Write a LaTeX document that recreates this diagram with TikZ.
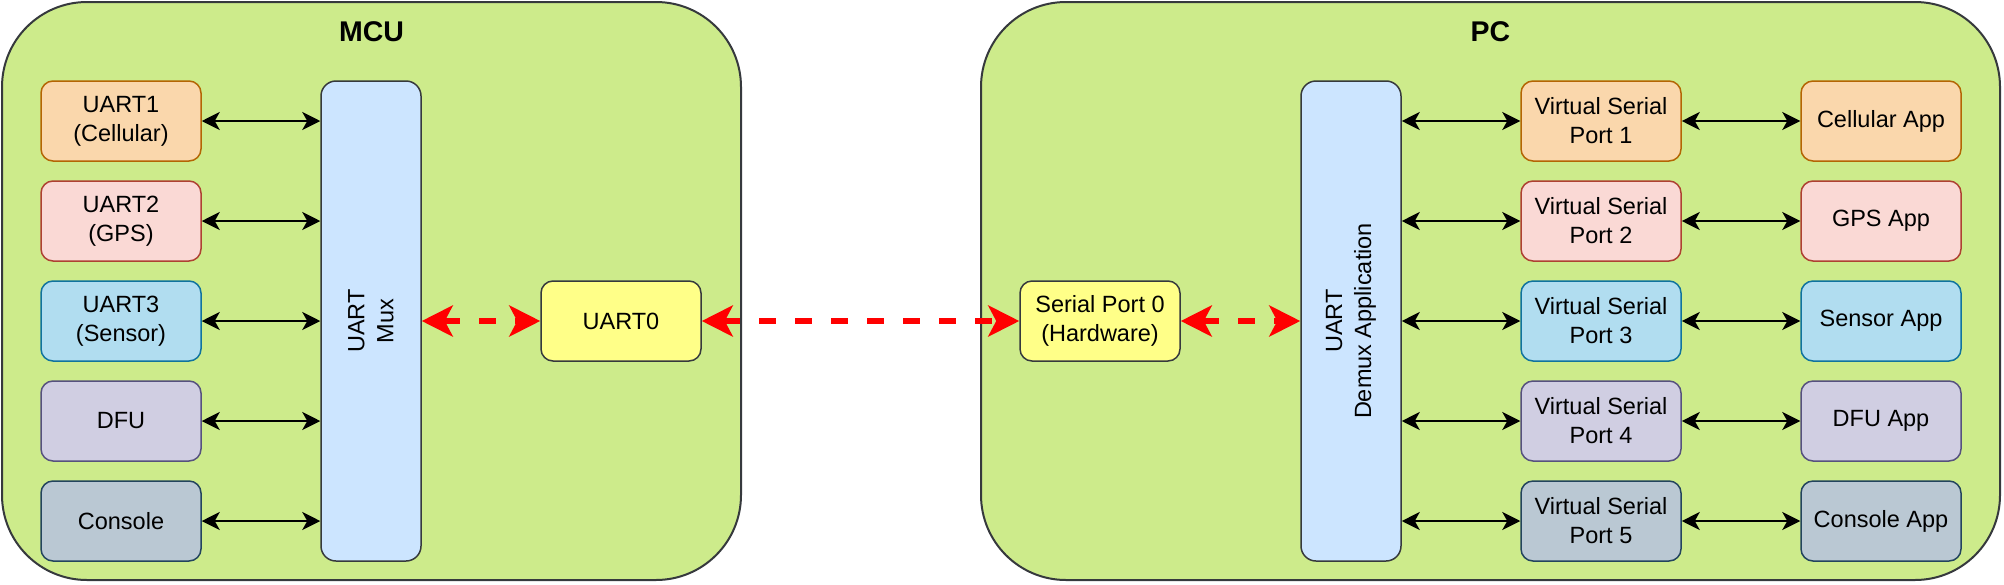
\documentclass[tikz,border=0pt]{standalone}
\usepackage{fontspec}
\setmainfont{Liberation Sans}
\usetikzlibrary{arrows.meta}
\definecolor{cgreen}{HTML}{CDEB8B}
\definecolor{cdark}{HTML}{36393D}
\definecolor{cblue}{HTML}{CCE5FF}
\definecolor{cyellow}{HTML}{FFFF88}
\definecolor{oF}{HTML}{FAD7AC}\definecolor{oS}{HTML}{B46504}
\definecolor{rF}{HTML}{FAD9D5}\definecolor{rS}{HTML}{AE4132}
\definecolor{bF}{HTML}{B1DDF0}\definecolor{bS}{HTML}{10739E}
\definecolor{pF}{HTML}{D0CEE2}\definecolor{pS}{HTML}{56517E}
\definecolor{gF}{HTML}{BAC8D3}\definecolor{gS}{HTML}{23445D}
\definecolor{cred}{HTML}{FF0000}
\begin{document}
\begin{tikzpicture}[x=1pt,y=-1pt,
  every node/.style={font=\fontsize{23.5}{29}\selectfont},
  container/.style={draw=cdark, fill=cgreen, line width=2pt, rounded corners=85pt, inner sep=0pt},
  titletext/.style={font=\fontsize{28.5}{34}\selectfont\bfseries, inner sep=0pt},
  box/.style={line width=1.5pt, rounded corners=12pt, minimum width=160pt, minimum height=80pt, align=center, inner sep=0pt},
  orangebox/.style={box, draw=oS, fill=oF},
  redbox/.style={box, draw=rS, fill=rF},
  bluebox/.style={box, draw=bS, fill=bF},
  purplebox/.style={box, draw=pS, fill=pF},
  greybox/.style={box, draw=gS, fill=gF},
  yellowbox/.style={box, draw=cdark, fill=cyellow},
  busbox/.style={draw=cdark, fill=cblue, line width=1.5pt, rounded corners=15pt, minimum width=100pt, minimum height=480pt, inner sep=0pt},
  vlabel/.style={rotate=90, align=center, inner sep=0pt},
  link/.style={draw=black, line width=2pt, >={Stealth[length=18pt,width=18pt,inset=5pt]}, <->},
  redlink/.style={draw=cred, line width=5.5pt, dash pattern=on 17pt off 19pt, >={Stealth[length=31pt,width=31pt,inset=8pt]}, <->}
]
\useasboundingbox (0,0) rectangle (2004,584);

% containers
\node[container, minimum width=739pt, minimum height=578pt] (mcu) at (371.5,291) {};
\node[container, minimum width=1019pt, minimum height=578pt] (pc) at (1490.5,291) {};
\node[titletext] (mcut) at (371.5,32) {MCU};
\node[titletext] (pct) at (1490.5,32) {PC};

% MCU side
\node[orangebox] (u1) at (121,121) {UART1\\(Cellular)};
\node[redbox]    (u2) at (121,221) {UART2\\(GPS)};
\node[bluebox]   (u3) at (121,321) {UART3\\(Sensor)};
\node[purplebox] (u4) at (121,421) {DFU};
\node[greybox]   (u5) at (121,521) {Console};
\node[busbox] (mux) at (371,321) {};
\node[vlabel] (muxl) at (mux.center) {UART\\Mux};
\node[yellowbox] (u0) at (621,321) {UART0};

% PC side
\node[yellowbox] (sp0) at (1100,321) {Serial Port 0\\(Hardware)};
\node[busbox] (demux) at (1351,321) {};
\node[vlabel] (demuxl) at (demux.center) {UART\\Demux Application};
\node[orangebox] (v1) at (1601,121) {Virtual Serial\\Port 1};
\node[redbox]    (v2) at (1601,221) {Virtual Serial\\Port 2};
\node[bluebox]   (v3) at (1601,321) {Virtual Serial\\Port 3};
\node[purplebox] (v4) at (1601,421) {Virtual Serial\\Port 4};
\node[greybox]   (v5) at (1601,521) {Virtual Serial\\Port 5};
\node[orangebox] (a1) at (1881,121) {Cellular App};
\node[redbox]    (a2) at (1881,221) {GPS App};
\node[bluebox]   (a3) at (1881,321) {Sensor App};
\node[purplebox] (a4) at (1881,421) {DFU App};
\node[greybox]   (a5) at (1881,521) {Console App};

% black links
\foreach \i in {1,...,5}{
  \draw[link] (u\i.east) -- (u\i.east -| mux.west);
  \draw[link] (v\i.west -| demux.east) -- (v\i.west);
  \draw[link] (v\i.east) -- (a\i.west);
}

% red links
\draw[redlink] (mux.east |- u0.west) -- (u0.west);
\draw[redlink] (u0.east) -- (sp0.west);
\draw[redlink] (sp0.east) -- (sp0.east -| demux.west);
\end{tikzpicture}
\end{document}
